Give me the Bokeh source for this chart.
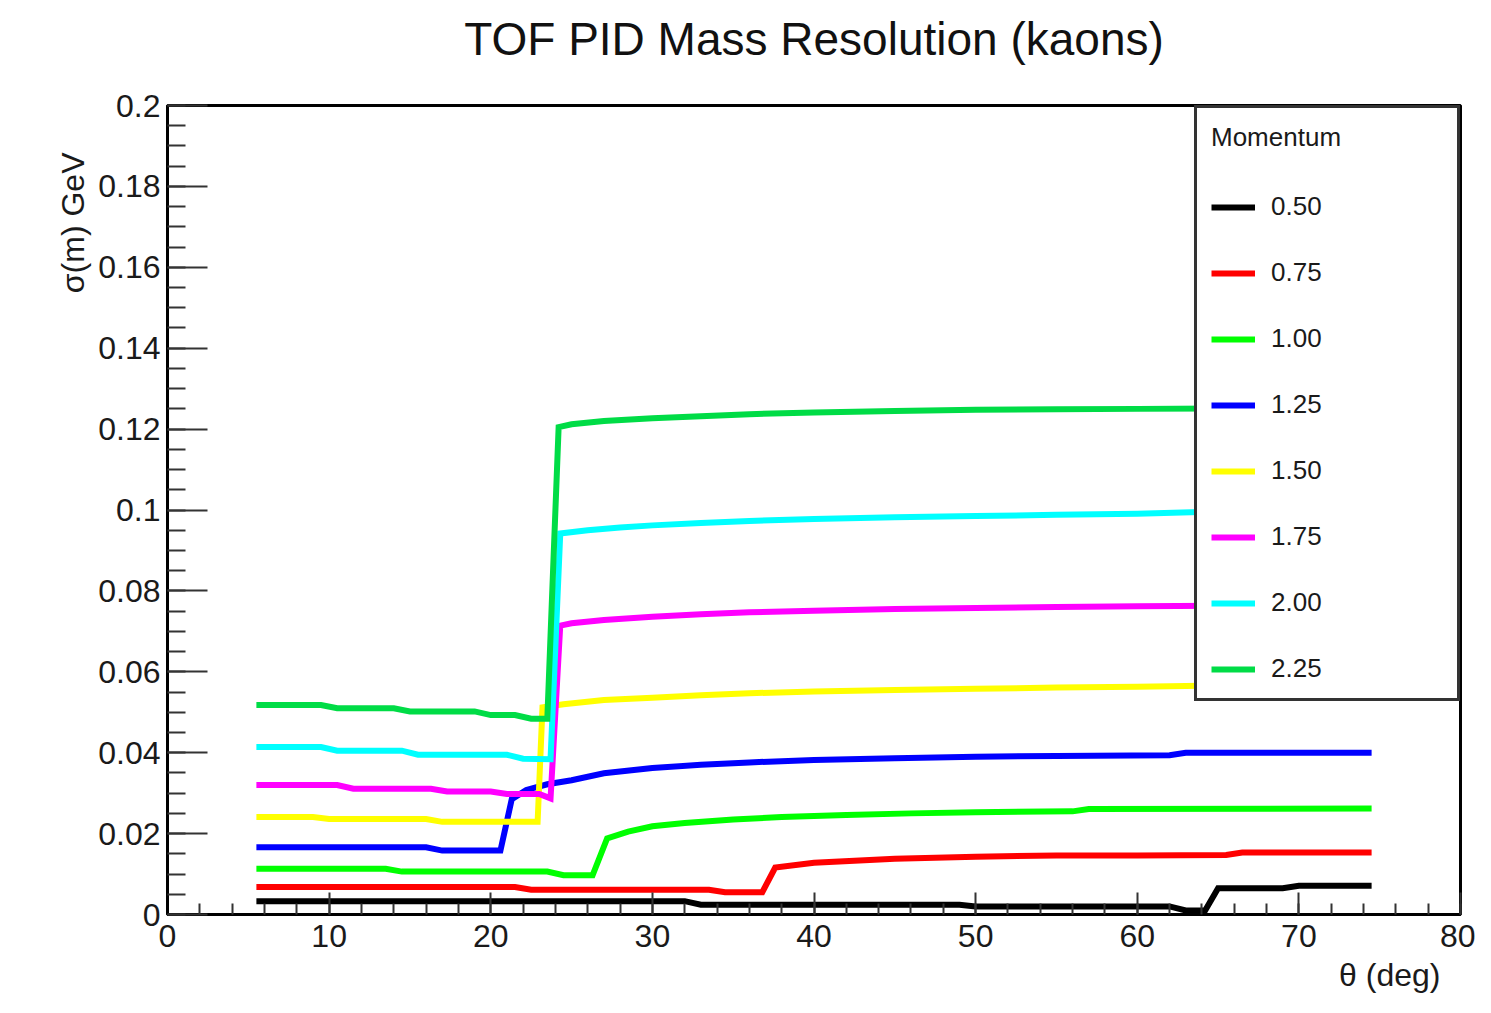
from bokeh.plotting import figure
from bokeh.models import Range1d, FixedTicker, Legend, LegendItem, Title, Label
from bokeh.embed import file_html
from bokeh.resources import INLINE

# ---------------- data ----------------
MOMENTA = ["0.50", "0.75", "1.00", "1.25", "1.50", "1.75", "2.00", "2.25"]
COLORS = ["#000000", "#FF0000", "#00FF00", "#0000FF", "#FFFF00", "#FF00FF", "#00FFFF", "#00DC46"]

theta_050 = [5.5, 32.0, 33.0, 49.0, 50.0, 62.0, 63.0, 64.2, 65.0, 69.0, 70.0, 74.5]
sigma_050 = [0.0033, 0.0033, 0.0024, 0.0024, 0.0020, 0.0020, 0.0010, 0.0010, 0.0065, 0.0065, 0.0071, 0.0071]

theta_075 = [5.5, 21.5, 22.5, 33.5, 34.5, 36.8, 37.6, 40, 45, 50, 55, 60, 65.5, 66.5, 74.5]
sigma_075 = [0.0068, 0.0068, 0.0061, 0.0061, 0.0055, 0.0055, 0.0116, 0.0128, 0.0138, 0.0143, 0.0146, 0.0146,
             0.0147, 0.0153, 0.0153]

theta_100 = [5.5, 13.5, 14.5, 23.5, 24.5, 26.3, 27.2, 28.5, 30, 32, 35, 38, 42, 46, 50, 56, 57, 74.5]
sigma_100 = [0.0113, 0.0113, 0.0106, 0.0106, 0.0097, 0.0097, 0.0188, 0.0205, 0.0218, 0.0226, 0.0235, 0.0241,
             0.0246, 0.0250, 0.0253, 0.0255, 0.0261, 0.0262]

theta_125 = [5.5, 16.0, 17.0, 20.6, 21.3, 22.2, 23.5, 25, 27, 30, 33, 36, 40, 45, 50, 55, 62, 63, 74.5]
sigma_125 = [0.0166, 0.0166, 0.0158, 0.0158, 0.0285, 0.0308, 0.0322, 0.0332, 0.0349, 0.0362, 0.0370, 0.0376,
             0.0382, 0.0386, 0.0390, 0.0392, 0.0394, 0.0400, 0.0400]

theta_150 = [5.5, 9, 10, 16, 17, 22.9, 23.2, 24.5, 27, 30, 33, 36, 40, 45, 50, 55, 60, 65, 70, 74.5]
sigma_150 = [0.0241, 0.0241, 0.0236, 0.0236, 0.0229, 0.0229, 0.0512, 0.0520, 0.0530, 0.0536, 0.0542, 0.0547,
             0.0551, 0.0555, 0.0558, 0.0561, 0.0563, 0.0566, 0.0568, 0.0569]

theta_175 = [5.5, 10.5, 11.5, 16.3, 17.3, 20.0, 21.0, 23.0, 23.7, 24.3, 25, 27, 30, 33, 36, 40, 45, 50, 55, 60,
             65, 70, 74.5]
sigma_175 = [0.0320, 0.0320, 0.0311, 0.0311, 0.0304, 0.0304, 0.0298, 0.0298, 0.0287, 0.0714, 0.0720, 0.0728,
             0.0736, 0.0742, 0.0747, 0.0751, 0.0755, 0.0758, 0.0760, 0.0762, 0.0763, 0.0764, 0.0765]

theta_200 = [5.5, 9.5, 10.5, 14.5, 15.5, 21, 22, 23.7, 24.3, 26, 28, 30, 33, 36, 40, 45, 50, 55, 60, 65, 70, 74.5]
sigma_200 = [0.0414, 0.0414, 0.0405, 0.0405, 0.0395, 0.0395, 0.0385, 0.0384, 0.0942, 0.0950, 0.0957, 0.0962,
             0.0968, 0.0973, 0.0978, 0.0982, 0.0985, 0.0988, 0.0991, 0.0996, 0.0998, 0.0999]

theta_225 = [5.5, 9.5, 10.5, 14, 15, 19, 20, 21.5, 22.5, 23.5, 24.2, 25, 27, 30, 33, 36, 40, 45, 50, 55, 60, 65,
             70, 74.5]
sigma_225 = [0.0518, 0.0518, 0.0510, 0.0510, 0.0502, 0.0502, 0.0493, 0.0493, 0.0484, 0.0484, 0.1205, 0.1212,
             0.1220, 0.1227, 0.1232, 0.1237, 0.1241, 0.1245, 0.1248, 0.1249, 0.1250, 0.1251, 0.1252, 0.1252]

THETAS = [theta_050, theta_075, theta_100, theta_125, theta_150, theta_175, theta_200, theta_225]
SIGMAS = [sigma_050, sigma_075, sigma_100, sigma_125, sigma_150, sigma_175, sigma_200, sigma_225]

X_TICKS = [0, 10, 20, 30, 40, 50, 60, 70, 80]
Y_TICKS = [0, 0.02, 0.04, 0.06, 0.08, 0.1, 0.12, 0.14, 0.16, 0.18, 0.2]
Y_TICK_LABELS = ["0", "0.02", "0.04", "0.06", "0.08", "0.1", "0.12", "0.14", "0.16", "0.18", "0.2"]

TITLE = "TOF PID Mass Resolution (kaons)"
X_LABEL = "\u03b8 (deg)"
Y_LABEL = "\u03c3(m) GeV"
LEGEND_TITLE = "Momentum"

# ---------------- figure ----------------
FONT = "Liberation Sans"
W, H = 1475, 997
L, R, T, B = 167, 15, 105, 81

p = figure(width=W, height=H, output_backend="svg", toolbar_location=None, title=None,
           x_range=Range1d(0, 80), y_range=Range1d(0, 0.2),
           min_border_left=L, min_border_right=R, min_border_top=T, min_border_bottom=B)
p.background_fill_color = "white"
p.border_fill_color = "white"
p.xgrid.visible = False
p.ygrid.visible = False
p.outline_line_color = "#000000"
p.outline_line_width = 3

x_minor = [v * 2 for v in range(41)]
y_minor = [round(v * 0.005, 3) for v in range(41)]
p.xaxis.ticker = FixedTicker(ticks=X_TICKS, minor_ticks=x_minor)
p.yaxis.ticker = FixedTicker(ticks=Y_TICKS, minor_ticks=y_minor)
p.yaxis.major_label_overrides = {t: s for t, s in zip(Y_TICKS, Y_TICK_LABELS)}

for ax in (p.xaxis[0], p.yaxis[0]):
    ax.axis_line_color = "#000000"
    ax.axis_line_width = 3
    ax.major_tick_line_color = "#333333"
    ax.minor_tick_line_color = "#333333"
    ax.major_tick_line_width = 2
    ax.minor_tick_line_width = 2
    ax.major_tick_out = 0
    ax.minor_tick_out = 0
    ax.major_label_text_font = FONT
    ax.major_label_text_font_size = "32px"
    ax.major_label_text_color = "#1a1a1a"

p.xaxis.major_tick_in = 22
p.xaxis.minor_tick_in = 11
p.xaxis.major_label_standoff = 10
p.yaxis.major_tick_in = 40
p.yaxis.minor_tick_in = 18
p.yaxis.major_label_standoff = 7

renderers = []
for th, sg, col in zip(THETAS, SIGMAS, COLORS):
    r = p.line(th, sg, line_color=col, line_width=6, line_join="miter")
    renderers.append(r)

legend = Legend(items=[LegendItem(label=m, renderers=[r]) for m, r in zip(MOMENTA, renderers)],
                location="top_right", margin=0, padding=14, spacing=35,
                glyph_width=44, glyph_height=24, label_height=24, label_width=172, label_standoff=16,
                title=LEGEND_TITLE, title_standoff=38,
                title_text_font=FONT, title_text_font_size="26px", title_text_font_style="normal",
                title_text_color="#1a1a1a",
                label_text_font=FONT, label_text_font_size="26px", label_text_color="#1a1a1a",
                border_line_color="#333333", border_line_width=3, border_line_alpha=1.0,
                background_fill_color="white", background_fill_alpha=1.0)
p.add_layout(legend)

frame_w = W - L - R
p.add_layout(Label(x=frame_w / 2, y=67, x_units="screen", y_units="screen", text=TITLE,
                   text_align="center", text_baseline="middle", text_font=FONT,
                   text_font_size="46px", text_color="#111111"), "above")
p.add_layout(Title(text=Y_LABEL, align="right", offset=47, text_font=FONT, text_font_size="32px",
                   text_font_style="normal", text_color="#1a1a1a"), "left")
p.add_layout(Title(text=X_LABEL, align="right", offset=20, text_font=FONT, text_font_size="32px",
                   text_font_style="normal", text_color="#1a1a1a"), "below")

open("out.html", "w").write(file_html(p, INLINE))
